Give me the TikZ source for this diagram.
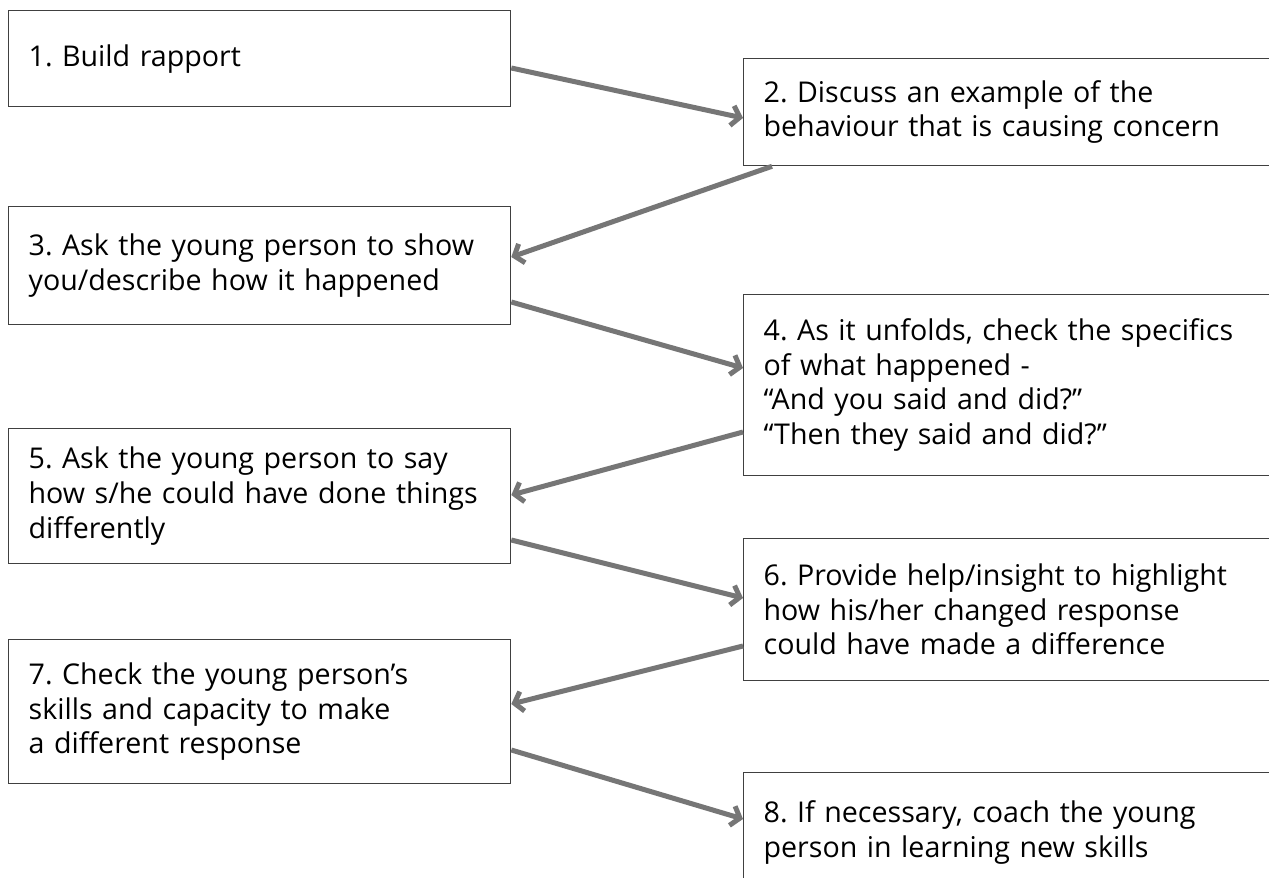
\documentclass[tikz,border=0pt]{standalone}
\usepackage{fontspec}
\setmainfont{Open Sans}
\usetikzlibrary{arrows.meta, calc}

\definecolor{boxline}{HTML}{404040}
\definecolor{arrowgray}{HTML}{767676}

\begin{document}
\frenchspacing
\begin{tikzpicture}[x=0.5pt, y=-0.5pt, font=\fontsize{14.3pt}{17.3pt}\selectfont]
  % Box and arrow styles
  \tikzset{
    stepbox/.style={draw=boxline, line width=0.65pt, rectangle, anchor=north west,
      align=left, inner xsep=10pt, inner ysep=2pt},
    leftbox/.style={stepbox, text width=231pt, minimum height=#1},
    rightbox/.style={stepbox, text width=280pt, minimum height=#1},
    flowarrow/.style={draw=arrowgray, line width=2.5pt,
      -{Straight Barb[length=4pt, width=10pt]}}
  }

  % page size of the reference, 1269 x 878 px
  \clip (0,0) rectangle (1269,878);
  \fill[white] (0,0) rectangle (1269,878);

  \node[leftbox=48pt]    (b1) at (8,10)    {1. Build rapport};
  \node[rightbox=53.5pt] (b2) at (743,58)  {2. Discuss an example of the\\behaviour that is causing concern};
  \node[leftbox=59pt]    (b3) at (8,206)   {3. Ask the young person to show\\you/describe how it happened};
  \node[rightbox=90.5pt] (b4) at (743,294) {4. As it unfolds, check the specifics\\of what happened -\\“And you said and did?”\\“Then they said and did?”};
  \node[leftbox=67.5pt]  (b5) at (8,428)   {5. Ask the young person to say\\how s/he could have done things\\differently};
  \node[rightbox=71pt]   (b6) at (743,538) {6. Provide help/insight to highlight\\how his/her changed response\\could have made a difference};
  \node[leftbox=72pt]    (b7) at (8,639)   {7. Check the young person’s\\skills and capacity to make\\a different response};
  \node[rightbox=60pt]   (b8) at (743,772) {8. If necessary, coach the young\\person in learning new skills};

  % left column -> right column
  \foreach \src/\ys/\dst/\yd in {b1/58/b2/60, b3/96/b4/74, b5/112/b6/60, b7/111/b8/47}
    \draw[flowarrow] ($(\src.north east)+(0,\ys)$) -- ($(\dst.north west)+(0,\yd)$);

  % right column -> left column
  \foreach \src/\ys/\dst/\yd in {b4/138/b5/67, b6/108/b7/65}
    \draw[flowarrow] ($(\src.north west)+(0,\ys)$) -- ($(\dst.north east)+(0,\yd)$);
  \draw[flowarrow] ($(b2.south west)+(29,0)$) -- ($(b3.north east)+(0,51)$);
\end{tikzpicture}
\end{document}
